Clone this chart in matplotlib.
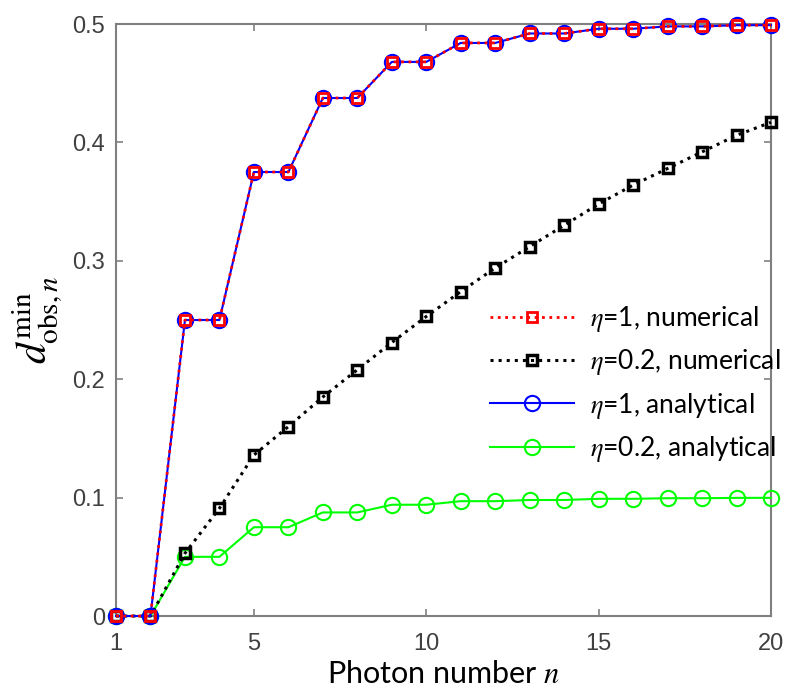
import matplotlib
matplotlib.use("Agg")
import matplotlib.pyplot as plt

plt.rcParams['mathtext.fontset'] = 'stix'

n = list(range(1, 21))
eta1_num = [0, 0, 0.25, 0.25, 0.375, 0.375, 0.4375, 0.4375, 0.468, 0.468,
            0.484, 0.484, 0.492, 0.492, 0.496, 0.496, 0.498, 0.498, 0.499, 0.499]
eta02_num = [0, 0, 0.053, 0.091, 0.136, 0.160, 0.185, 0.208, 0.231, 0.253,
             0.274, 0.294, 0.312, 0.330, 0.348, 0.364, 0.378, 0.392, 0.406, 0.417]
eta1_ana = [0, 0, 0.25, 0.25, 0.375, 0.375, 0.4375, 0.4375, 0.468, 0.468,
            0.484, 0.484, 0.492, 0.492, 0.496, 0.496, 0.498, 0.498, 0.499, 0.499]
eta02_ana = [0, 0, 0.05, 0.05, 0.075, 0.075, 0.0875, 0.0875, 0.094, 0.094,
             0.097, 0.097, 0.098, 0.098, 0.099, 0.099, 0.0995, 0.0995, 0.0998, 0.0998]
labels = [r'$\eta$=1, numerical', r'$\eta$=0.2, numerical',
          r'$\eta$=1, analytical', r'$\eta$=0.2, analytical']

fig = plt.figure(figsize=(7.87, 6.9), dpi=100)
ax = fig.add_axes([0.1474, 0.1072, 0.8323, 0.858])

l1, = ax.plot(n, eta1_num, ':', color='red', lw=2, marker='s', ms=7,
              mfc='none', mew=2, zorder=4, label=labels[0], clip_on=False)
l2, = ax.plot(n, eta02_num, ':', color='black', lw=2.2, marker='s', ms=7,
              mfc='none', mew=2.5, zorder=3, label=labels[1], clip_on=False)
l3, = ax.plot(n, eta1_ana, '-', color='blue', lw=1.5, marker='o', ms=11,
              mfc='none', mew=1.5, zorder=3, label=labels[2], clip_on=False)
l4, = ax.plot(n, eta02_ana, '-', color='#00ff00', lw=1.5, marker='o', ms=11,
              mfc='none', mew=1.5, zorder=2, label=labels[3], clip_on=False)

ax.set_xlim(1, 20)
ax.set_ylim(0, 0.5)
ax.set_xticks([1, 5, 10, 15, 20])
ax.set_yticks([0, 0.1, 0.2, 0.3, 0.4, 0.5])
ax.set_yticklabels(['0', '0.1', '0.2', '0.3', '0.4', '0.5'])
ax.tick_params(direction='in', length=5, width=1.2, top=True, right=True,
               colors='#808080', labelcolor='#404040', labelsize=17, pad=8)
ax.tick_params(axis='x', pad=12)
for lab in ax.get_xticklabels() + ax.get_yticklabels():
    lab.set_fontfamily('Liberation Sans')
for sp in ax.spines.values():
    sp.set_color('#808080')
    sp.set_linewidth(1.5)
    sp.set_zorder(1)

ax.set_xlabel(r'Photon number $n$', fontsize=22, family='Lato', labelpad=4)
ax.set_ylabel(r'$d_{\mathrm{obs},n}^{\mathrm{min}}$', fontsize=30, labelpad=6)

leg = ax.legend(handles=[l1, l2, l3, l4], loc='center left',
                bbox_to_anchor=(0.571, 0.392), frameon=False, borderpad=0,
                borderaxespad=0, handlelength=3.2, handletextpad=0.6,
                labelspacing=0.5, prop={'family': 'Lato', 'size': 19})
leg.set_zorder(10)

fig.savefig('out.png', dpi=100)
